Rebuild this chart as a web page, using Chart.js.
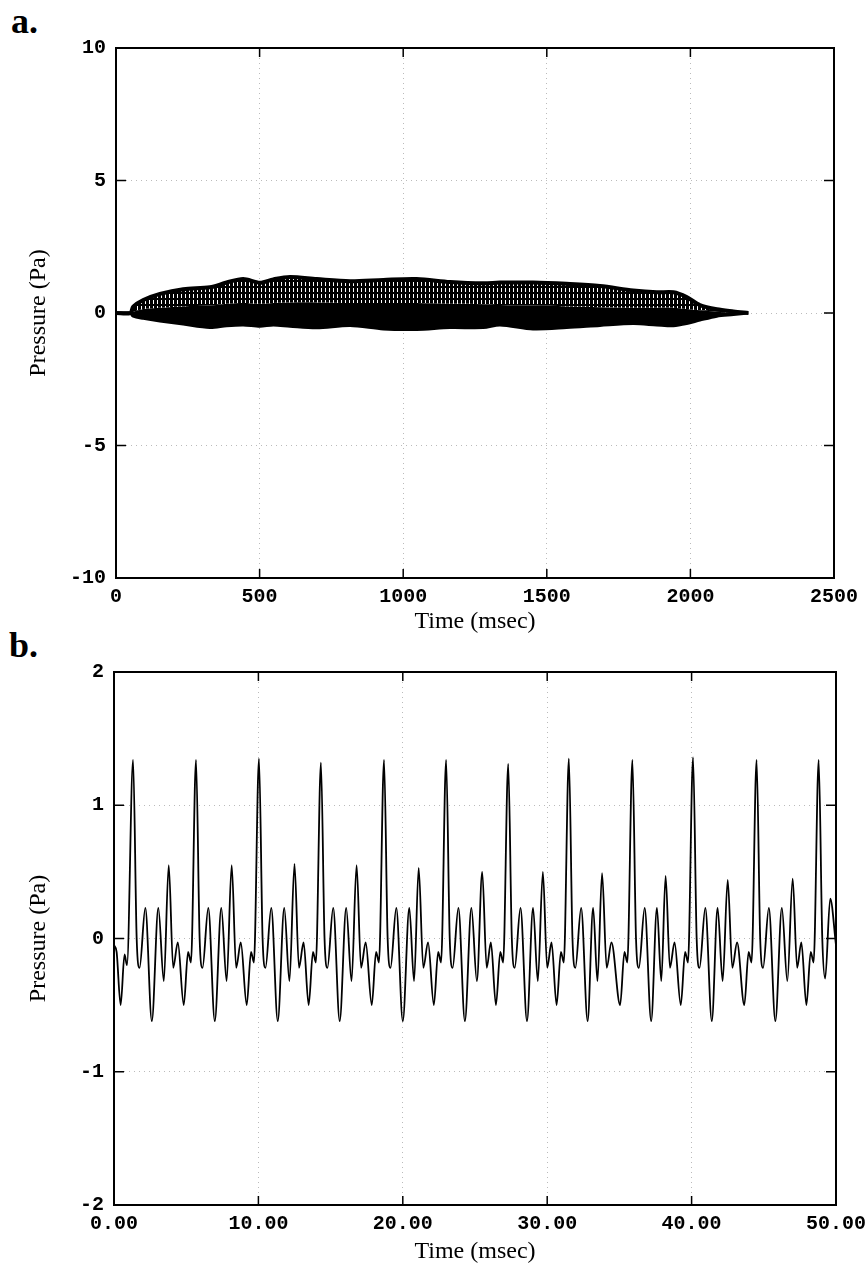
<!DOCTYPE html>
<html>
<head>
<meta charset="utf-8">
<script src="https://cdn.jsdelivr.net/npm/chart.js@4/dist/chart.umd.min.js"></script>
<style>
  html, body { margin: 0; padding: 0; background: #fff; overflow: hidden; }
  body { width: 865px; height: 1271px; position: relative; }
  canvas { position: absolute; left: 0; }
  #ca { top: 0; }
  #cb { top: 640px; }
  .tag { position: absolute; font: bold 36px "Liberation Serif", serif; line-height: 36px; color: #000; }
</style>
</head>
<body>
<div class="tag" style="left:11px; top:3px;">a.</div>
<div class="tag" style="left:9px; top:627px;">b.</div>
<canvas id="ca" width="865" height="640"></canvas>
<canvas id="cb" width="865" height="631"></canvas>
<script>
// panel a: envelope of the full 2.2 s trace (msec, Pa)
const envTime  = [0, 50, 60, 95, 153, 234, 327, 385, 443, 501, 548, 606, 699, 815, 931, 1047, 1163, 1279, 1337, 1452, 1569, 1685, 1801, 1883, 1941, 1987, 2033, 2092, 2150, 2202];
const envUpper = [0, 0, 0.24, 0.49, 0.72, 0.90, 0.97, 1.15, 1.28, 1.14, 1.27, 1.36, 1.28, 1.20, 1.25, 1.28, 1.17, 1.12, 1.15, 1.15, 1.10, 1.02, 0.85, 0.78, 0.78, 0.60, 0.30, 0.14, 0.06, 0];
const envMid   = [0, 0, 0.05, 0.15, 0.20, 0.25, 0.28, 0.35, 0.38, 0.35, 0.38, 0.40, 0.40, 0.38, 0.38, 0.38, 0.35, 0.33, 0.30, 0.28, 0.25, 0.22, 0.20, 0.20, 0.20, 0.15, 0.10, 0.05, 0.02, 0];
const envLower = [0, 0, -0.12, -0.20, -0.30, -0.42, -0.55, -0.48, -0.45, -0.50, -0.45, -0.50, -0.56, -0.47, -0.60, -0.62, -0.55, -0.55, -0.45, -0.60, -0.55, -0.47, -0.40, -0.45, -0.48, -0.40, -0.27, -0.12, -0.06, 0];

// panel b: first 50 ms of the trace
const bTime = [
  0.00, 0.18, 0.46, 0.73, 0.90,
  1.32, 1.57, 1.77, 2.17, 2.62, 3.07, 3.45, 3.79, 4.10, 4.42, 4.83, 5.13, 5.33,
  5.68, 5.93, 6.13, 6.53, 6.98, 7.43, 7.80, 8.15, 8.46, 8.78, 9.19, 9.49, 9.69,
  10.04, 10.29, 10.49, 10.89, 11.34, 11.79, 12.15, 12.50, 12.81, 13.13, 13.48, 13.78, 13.98,
  14.33, 14.58, 14.78, 15.18, 15.63, 16.08, 16.45, 16.80, 17.11, 17.43, 17.85, 18.15, 18.35,
  18.70, 18.95, 19.15, 19.55, 20.00, 20.45, 20.78, 21.10, 21.42, 21.75, 22.15, 22.45, 22.65,
  23.00, 23.25, 23.45, 23.85, 24.30, 24.75, 25.13, 25.50, 25.81, 26.10, 26.45, 26.75, 26.95,
  27.30, 27.55, 27.75, 28.15, 28.60, 29.02, 29.35, 29.70, 30.00, 30.30, 30.65, 30.95, 31.15,
  31.50, 31.75, 31.95, 32.35, 32.80, 33.18, 33.48, 33.80, 34.12, 34.45, 35.05, 35.35, 35.55,
  35.90, 36.15, 36.35, 36.75, 37.20, 37.60, 37.90, 38.20, 38.50, 38.82, 39.25, 39.55, 39.75,
  40.10, 40.35, 40.55, 40.95, 41.40, 41.80, 42.15, 42.50, 42.82, 43.15, 43.65, 43.95, 44.15,
  44.50, 44.75, 44.95, 45.35, 45.80, 46.25, 46.63, 47.00, 47.31, 47.60, 47.95, 48.25, 48.45,
  48.80, 49.05, 49.25, 49.60, 50.00
];
const bPressure = [
  -0.05, -0.10, -0.50, -0.12, -0.20,
  1.34, 0.00, -0.22, 0.23, -0.62, 0.23, -0.32, 0.55, -0.22, -0.03, -0.50, -0.10, -0.18,
  1.34, 0.00, -0.22, 0.23, -0.62, 0.23, -0.32, 0.55, -0.22, -0.03, -0.50, -0.10, -0.18,
  1.35, 0.00, -0.22, 0.23, -0.62, 0.23, -0.32, 0.56, -0.22, -0.03, -0.50, -0.10, -0.18,
  1.32, 0.00, -0.22, 0.23, -0.62, 0.23, -0.32, 0.55, -0.22, -0.03, -0.50, -0.10, -0.18,
  1.34, 0.00, -0.22, 0.23, -0.62, 0.23, -0.32, 0.53, -0.22, -0.03, -0.50, -0.10, -0.18,
  1.34, 0.00, -0.22, 0.23, -0.62, 0.23, -0.32, 0.50, -0.22, -0.03, -0.50, -0.10, -0.18,
  1.31, 0.00, -0.22, 0.23, -0.62, 0.23, -0.32, 0.50, -0.22, -0.03, -0.50, -0.10, -0.18,
  1.35, 0.00, -0.22, 0.23, -0.62, 0.23, -0.32, 0.49, -0.22, -0.03, -0.50, -0.10, -0.18,
  1.34, 0.00, -0.22, 0.23, -0.62, 0.23, -0.32, 0.47, -0.22, -0.03, -0.50, -0.10, -0.18,
  1.36, 0.00, -0.22, 0.23, -0.62, 0.23, -0.32, 0.44, -0.22, -0.03, -0.50, -0.10, -0.18,
  1.34, 0.00, -0.22, 0.23, -0.62, 0.23, -0.32, 0.45, -0.22, -0.03, -0.50, -0.10, -0.18,
  1.34, 0.00, -0.30, 0.30, -0.05
];

const aXTicks = [0, 500, 1000, 1500, 2000, 2500];
const aYTicks = [-10, -5, 0, 5, 10];
const bXTicks = [0, 10, 20, 30, 40, 50];
const bYTicks = [-2, -1, 0, 1, 2];

const pts = (xs, ys) => xs.map((x, i) => ({ x, y: ys[i] }));

// box around the plot + short ticks pointing inwards on all four sides
const frameTicks = {
  id: 'frameTicks',
  afterDraw(chart) {
    const { ctx, chartArea: a, scales: { x, y } } = chart;
    ctx.save();
    ctx.strokeStyle = '#000';
    ctx.lineWidth = 2;
    ctx.strokeRect(a.left, a.top, a.right - a.left, a.bottom - a.top);
    ctx.lineWidth = 1.5;
    ctx.beginPath();
    x.ticks.forEach(t => {
      const p = x.getPixelForValue(t.value);
      ctx.moveTo(p, a.bottom); ctx.lineTo(p, a.bottom - 9);
      ctx.moveTo(p, a.top); ctx.lineTo(p, a.top + 9);
    });
    y.ticks.forEach(t => {
      const p = y.getPixelForValue(t.value);
      ctx.moveTo(a.left, p); ctx.lineTo(a.left + 10, p);
      ctx.moveTo(a.right, p); ctx.lineTo(a.right - 10, p);
    });
    ctx.stroke();
    ctx.restore();
  }
};

const tickFont = { family: '"Liberation Mono", monospace', size: 20, weight: 'bold' };
const titleFont = { family: '"Liberation Serif", serif', size: 24 };

function axes(xTicks, yTicks, xFmt, yWidth, xHeight, titleGap) {
  const grid = { color: '#bbb', lineWidth: 1, drawTicks: false };
  const border = { display: false, dash: [1, 4] };
  return {
    x: {
      type: 'linear', min: xTicks[0], max: xTicks[xTicks.length - 1],
      afterBuildTicks: s => { s.ticks = xTicks.map(v => ({ value: v })); },
      afterFit: s => { s.height = xHeight; s.paddingLeft = 0; s.paddingRight = 0; },
      grid, border,
      ticks: { color: '#000', font: tickFont, padding: 7, maxRotation: 0, autoSkip: false, callback: xFmt },
      title: { display: true, text: 'Time (msec)', color: '#000', font: titleFont, padding: { top: 0, bottom: titleGap } }
    },
    y: {
      type: 'linear', min: yTicks[0], max: yTicks[yTicks.length - 1],
      afterBuildTicks: s => { s.ticks = yTicks.map(v => ({ value: v })); },
      afterFit: s => { s.width = yWidth; },
      grid, border,
      ticks: { color: '#000', font: tickFont, padding: 10, callback: v => String(v) },
      title: { display: true, text: 'Pressure (Pa)', color: '#000', font: titleFont, padding: { top: 24, bottom: 0 } }
    }
  };
}

// stripe texture for the upper half of the dense band
const pc = document.createElement('canvas');
pc.width = 4; pc.height = 6;
const pctx = pc.getContext('2d');
pctx.fillStyle = '#000'; pctx.fillRect(0, 0, 4, 6);
pctx.fillStyle = '#fff'; pctx.fillRect(1, 0, 1, 4);
const stripes = pctx.createPattern(pc, 'repeat');

new Chart(document.getElementById('ca'), {
  type: 'line',
  data: {
    datasets: [
      { data: pts(envTime, envUpper), borderColor: '#000', borderWidth: 4, backgroundColor: stripes, fill: '+1', tension: 0.3, pointRadius: 0 },
      { data: pts(envTime, envMid), borderWidth: 0, borderColor: 'rgba(0,0,0,0)', backgroundColor: '#000', fill: '+1', tension: 0.3, pointRadius: 0 },
      { data: pts(envTime, envLower), borderColor: '#000', borderWidth: 3, fill: false, tension: 0.3, pointRadius: 0 }
    ]
  },
  options: {
    responsive: false, animation: false, devicePixelRatio: 1,
    layout: { padding: { left: 0, right: 31, top: 48, bottom: 0 } },
    plugins: { legend: { display: false }, tooltip: { enabled: false } },
    scales: axes(aXTicks, aYTicks, v => String(v), 116, 62, 4)
  },
  plugins: [frameTicks]
});

new Chart(document.getElementById('cb'), {
  type: 'line',
  data: {
    datasets: [
      { data: pts(bTime, bPressure), borderColor: '#000', borderWidth: 1.8, fill: false, cubicInterpolationMode: 'monotone', pointRadius: 0 }
    ]
  },
  options: {
    responsive: false, animation: false, devicePixelRatio: 1,
    layout: { padding: { left: 0, right: 29, top: 32, bottom: 0 } },
    plugins: { legend: { display: false }, tooltip: { enabled: false } },
    scales: axes(bXTicks, bYTicks, v => Number(v).toFixed(2), 114, 66, 5)
  },
  plugins: [frameTicks]
});
</script>
</body>
</html>
